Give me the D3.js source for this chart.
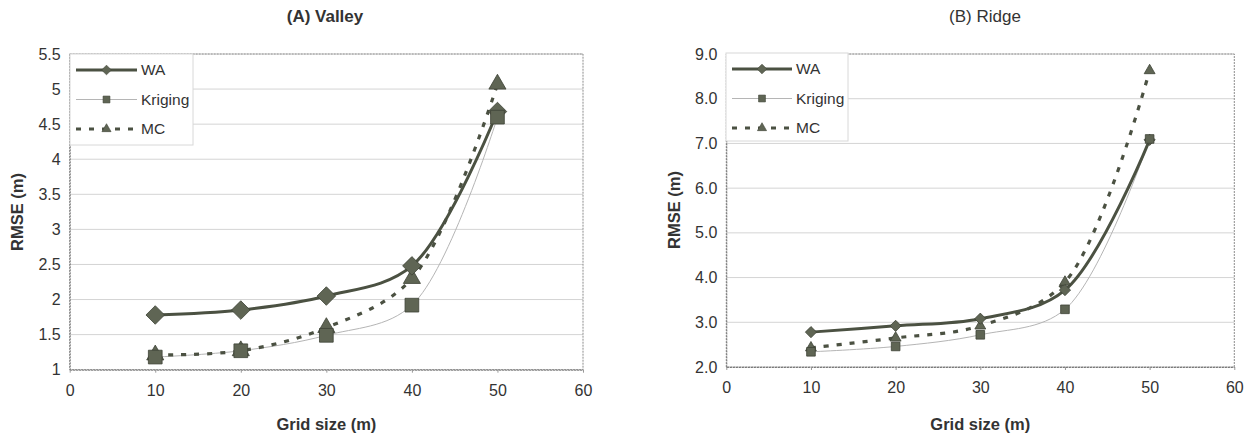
<!DOCTYPE html>
<html>
<head>
<meta charset="utf-8">
<style>
  body { margin: 0; background: #fff; }
  svg { font-family: Arial, "Liberation Sans", Helvetica, sans-serif; }
  .grid line { stroke: #d4d4d4; stroke-width: 1; }
  .frame { fill: none; stroke: #8c8c8c; stroke-width: 1; stroke-dasharray: 2,1; }
  .tick text { fill: #333; font-size: 16px; }
  .axis-title { font-weight: bold; font-size: 16.5px; fill: #333; }
</style>
</head>
<body>
<svg width="1252" height="435"></svg>
<script src="https://cdn.jsdelivr.net/npm/d3@7"></script>
<script>
// grid sizes on x axis
var gridSizes = [10, 20, 30, 40, 50];
var xTicks = [0, 10, 20, 30, 40, 50, 60];

// (A) Valley
var valleyWA = [1.78, 1.85, 2.05, 2.48, 4.68];
var valleyKriging = [1.18, 1.27, 1.49, 1.92, 4.60];
var valleyMC = [1.21, 1.27, 1.60, 2.30, 5.07];
var valleyTicks = [1, 1.5, 2, 2.5, 3, 3.5, 4, 4.5, 5, 5.5];

// (B) Ridge
var ridgeWA = [2.78, 2.92, 3.08, 3.72, 7.08];
var ridgeKriging = [2.34, 2.46, 2.72, 3.29, 7.10];
var ridgeMC = [2.43, 2.65, 2.92, 3.90, 8.63];
var ridgeTicks = [2, 3, 4, 5, 6, 7, 8, 9];

var seriesNames = ["WA", "Kriging", "MC"];

var svg = d3.select("svg");
var ink = "#4b5142";
var markFill = "#5f6554";

var styles = {
  WA: { stroke: ink, width: 3, dash: null, symbol: d3.symbolDiamond2 },
  Kriging: { stroke: "#b5b5b5", width: 1, dash: null, symbol: d3.symbolSquare2 },
  MC: { stroke: ink, width: 3.2, dash: "5,8", symbol: d3.symbolTriangle2 }
};

function drawPanel(p) {
  var x = d3.scaleLinear().domain([0, 60]).range([p.left, p.right]);
  var y = d3.scaleLinear().domain(p.domain).range([p.bottom, p.top]);
  var g = svg.append("g");

  // gridlines
  g.append("g").attr("class", "grid")
    .selectAll("line").data(p.ticks).enter().append("line")
    .attr("x1", p.left).attr("x2", p.right)
    .attr("y1", function(d) { return y(d); }).attr("y2", function(d) { return y(d); });

  g.append("rect").attr("class", "frame")
    .attr("x", p.left).attr("y", p.top)
    .attr("width", p.right - p.left).attr("height", p.bottom - p.top);

  var yAxis = d3.axisLeft(y).tickValues(p.ticks).tickFormat(p.fmt).tickSize(0).tickPadding(9);
  var ya = g.append("g").attr("transform", "translate(" + p.left + ",0)").call(yAxis);
  ya.select(".domain").attr("stroke", "#777").attr("stroke-dasharray", "2,1");

  var xAxis = d3.axisBottom(x).tickValues(xTicks).tickSize(3).tickSizeOuter(0).tickPadding(12);
  var xa = g.append("g").attr("transform", "translate(0," + p.bottom + ")").call(xAxis);
  xa.select(".domain").attr("stroke", "#777").attr("stroke-dasharray", "2,1");
  xa.selectAll(".tick line").attr("stroke", "#999");

  // lines
  var order = ["Kriging", "MC", "WA"];
  var line = d3.line()
    .x(function(d, i) { return x(gridSizes[i]); })
    .y(function(d) { return y(d); })
    .curve(d3.curveCatmullRom.alpha(0.5));
  order.forEach(function(name) {
    var s = styles[name];
    g.append("path").datum(p.data[name])
      .attr("fill", "none")
      .attr("stroke", s.stroke)
      .attr("stroke-width", s.width)
      .attr("stroke-dasharray", s.dash)
      .attr("d", line);
  });

  // markers
  ["MC", "WA", "Kriging"].forEach(function(name) {
    var s = styles[name];
    var sym = d3.symbol().type(s.symbol).size(p.markSize[name]);
    g.append("g").selectAll("path").data(p.data[name]).enter().append("path")
      .attr("transform", function(d, i) { return "translate(" + x(gridSizes[i]) + "," + y(d) + ")"; })
      .attr("d", sym)
      .attr("fill", markFill)
      .attr("stroke", "#3e4336")
      .attr("stroke-width", 0.8);
  });

  // legend
  var lg = g.append("g");
  lg.append("rect")
    .attr("x", p.legend.x).attr("y", p.legend.y)
    .attr("width", p.legend.w).attr("height", p.legend.h)
    .attr("fill", "#fff").attr("stroke", "#d8d8d8");
  seriesNames.forEach(function(name, i) {
    var s = styles[name];
    var cy = p.legend.y + 16 + i * 29.5;
    var x0 = p.legend.x + 6, x1 = x0 + p.legend.sample;
    lg.append("line")
      .attr("x1", x0).attr("x2", x1).attr("y1", cy).attr("y2", cy)
      .attr("stroke", s.stroke).attr("stroke-width", s.width)
      .attr("stroke-dasharray", s.dash);
    lg.append("path")
      .attr("transform", "translate(" + (x0 + x1) / 2 + "," + cy + ")")
      .attr("d", d3.symbol().type(s.symbol).size(60))
      .attr("fill", markFill).attr("stroke", "#3e4336").attr("stroke-width", 0.6);
    lg.append("text")
      .attr("x", x1 + 4).attr("y", cy).attr("dy", "0.35em")
      .attr("font-size", 15.5).attr("fill", "#333")
      .text(name);
  });

  // titles
  svg.append("text")
    .attr("x", p.titleX).attr("y", 22)
    .attr("text-anchor", "middle")
    .attr("font-size", 17).attr("font-weight", p.titleWeight).attr("fill", "#333")
    .text(p.title);
  svg.append("text").attr("class", "axis-title")
    .attr("x", (p.left + p.right) / 2).attr("y", 424)
    .attr("text-anchor", "middle").attr("dy", "0.35em")
    .text("Grid size (m)");
  svg.append("text").attr("class", "axis-title")
    .attr("transform", "translate(" + p.yTitleX + "," + p.yTitleY + ") rotate(-90)")
    .attr("text-anchor", "middle").attr("dy", "0.35em")
    .text("RMSE (m)");
}

drawPanel({
  title: "(A) Valley", titleX: 325, titleWeight: "bold",
  left: 69.7, right: 583, top: 54, bottom: 369.7,
  domain: [1, 5.5], ticks: valleyTicks, fmt: d3.format(""),
  data: { WA: valleyWA, Kriging: valleyKriging, MC: valleyMC },
  markSize: { WA: 220, Kriging: 240, MC: 210 },
  legend: { x: 70, y: 54, w: 123, h: 91, sample: 61 },
  yTitleX: 17, yTitleY: 212
});

drawPanel({
  title: "(B) Ridge", titleX: 985, titleWeight: "normal",
  left: 726.3, right: 1234.3, top: 54, bottom: 367,
  domain: [2, 9], ticks: ridgeTicks, fmt: d3.format(".1f"),
  data: { WA: ridgeWA, Kriging: ridgeKriging, MC: ridgeMC },
  markSize: { WA: 80, Kriging: 95, MC: 85 },
  legend: { x: 726, y: 53, w: 122, h: 88, sample: 60 },
  yTitleX: 674, yTitleY: 210
});
</script>
</body>
</html>
